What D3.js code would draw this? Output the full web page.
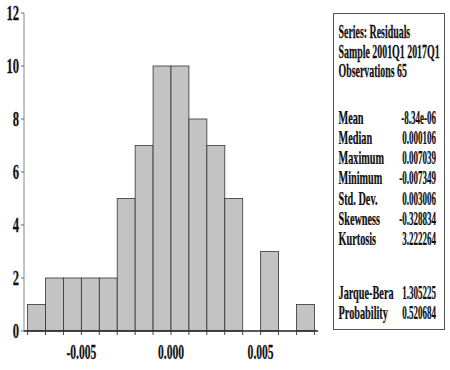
<!DOCTYPE html>
<html>
<head>
<meta charset="utf-8">
<script src="https://cdn.jsdelivr.net/npm/d3@7"></script>
<style>
  body { margin: 0; background: #fff; }
  text { font-family: "Liberation Serif", "Times New Roman", serif; font-weight: bold; fill: #111; stroke: #111; stroke-width: 0.25; }
</style>
</head>
<body>
<svg id="chart" width="450" height="370"></svg>
<script>
// histogram of residuals, bin width 0.001
const binStarts = [-0.008, -0.007, -0.006, -0.005, -0.004, -0.003, -0.002, -0.001,
                   0.000, 0.001, 0.002, 0.003, 0.004, 0.005, 0.006, 0.007];
const counts = [1, 2, 2, 2, 2, 5, 7, 10, 10, 8, 7, 5, 0, 3, 0, 1];
const binWidth = 0.001;
const xTicks = [-0.005, 0.000, 0.005];
const yTicks = [0, 2, 4, 6, 8, 10, 12];

const headerLines = ["Series: Residuals", "Sample 2001Q1 2017Q1", "Observations 65"];
const statNames = ["Mean", "Median", "Maximum", "Minimum", "Std. Dev.", "Skewness", "Kurtosis"];
const statValues = ["-8.34e-06", "0.000106", "0.007039", "-0.007349", "0.003006", "-0.328834", "3.222264"];
const testNames = ["Jarque-Bera", "Probability"];
const testValues = ["1.305225", "0.520684"];

const svg = d3.select("#chart");

const x = d3.scaleLinear().domain([-0.0082, 0.0082]).range([24, 318]);
const y = d3.scaleLinear().domain([0, 12]).range([331, 13]);

// the original text is squeezed horizontally, so draw it scaled in x
function label(parent, px, py, str, size, anchor, sx) {
    return parent.append("text")
        .attr("transform", `translate(${px},${py}) scale(${sx},1)`)
        .attr("text-anchor", anchor)
        .style("font-size", size + "px")
        .text(str);
}

// bars
svg.append("g").selectAll("rect")
    .data(binStarts.map((b, i) => ({ b: b, c: counts[i] })).filter(d => d.c > 0))
    .join("rect")
    .attr("x", d => x(d.b))
    .attr("y", d => y(d.c))
    .attr("width", d => x(d.b + binWidth) - x(d.b))
    .attr("height", d => y(0) - y(d.c))
    .attr("fill", "#c3c3c3")
    .attr("stroke", "#333")
    .attr("stroke-width", 0.8);

// y axis
svg.append("line")
    .attr("x1", 24).attr("x2", 24)
    .attr("y1", y(12)).attr("y2", y(0))
    .attr("stroke", "#888").attr("stroke-width", 1);
svg.append("g").selectAll("line")
    .data(yTicks)
    .join("line")
    .attr("x1", 21).attr("x2", 24)
    .attr("y1", d => y(d)).attr("y2", d => y(d))
    .attr("stroke", "#666");
yTicks.forEach(t => label(svg, 19, y(t) + 7, d3.format("d")(t), 21, "end", 0.6));

// x axis
svg.append("line")
    .attr("x1", 24).attr("x2", 318)
    .attr("y1", y(0)).attr("y2", y(0))
    .attr("stroke", "#222").attr("stroke-width", 1.6);
const edges = binStarts.concat([binStarts[binStarts.length - 1] + binWidth]);
svg.append("g").selectAll("line")
    .data(edges)
    .join("line")
    .attr("x1", d => x(d)).attr("x2", d => x(d))
    .attr("y1", y(0)).attr("y2", y(0) + 4)
    .attr("stroke", "#444");
xTicks.forEach(t => label(svg, x(t), 359, d3.format(".3f")(t).replace("−", "-"), 20, "middle", 0.58));

// stats box
svg.append("rect")
    .attr("x", 333.5).attr("y", 13.5)
    .attr("width", 111).attr("height", 316)
    .attr("fill", "#fff").attr("stroke", "#555").attr("stroke-width", 1);

const boxLeft = 338.5, boxRight = 436;
const headerY = [37.5, 57.5, 77];
headerLines.forEach((s, i) => label(svg, boxLeft, headerY[i], s, 18, "start", 0.55));
statNames.forEach((s, i) => {
    const py = 123.5 + i * 20.3;
    label(svg, boxLeft, py, s, 18, "start", 0.57);
    label(svg, boxRight, py, statValues[i], 18, "end", 0.5);
});
testNames.forEach((s, i) => {
    const py = 298.5 + i * 20.5;
    label(svg, boxLeft, py, s, 18, "start", 0.57);
    label(svg, boxRight, py, testValues[i], 18, "end", 0.5);
});
</script>
</body>
</html>
